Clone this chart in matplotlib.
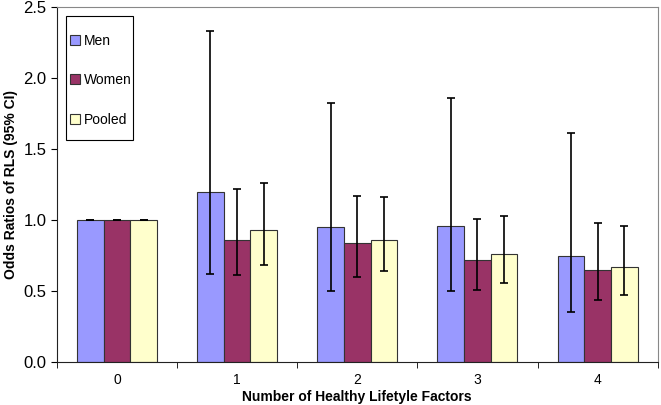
import matplotlib.pyplot as plt
import numpy as np
from matplotlib.patches import Rectangle

plt.rcParams['font.family'] = ['Liberation Sans', 'DejaVu Sans']

factors = ["0", "1", "2", "3", "4"]
men = [1.00, 1.20, 0.95, 0.96, 0.75]
men_lo = [1.00, 0.62, 0.50, 0.50, 0.35]
men_hi = [1.00, 2.33, 1.82, 1.86, 1.61]
women = [1.00, 0.86, 0.84, 0.72, 0.65]
women_lo = [1.00, 0.61, 0.60, 0.51, 0.44]
women_hi = [1.00, 1.22, 1.17, 1.01, 0.98]
pooled = [1.00, 0.93, 0.86, 0.76, 0.67]
pooled_lo = [1.00, 0.68, 0.64, 0.56, 0.47]
pooled_hi = [1.00, 1.26, 1.16, 1.03, 0.96]

fig = plt.figure(figsize=(6.61, 4.05), dpi=100)
ax = fig.add_axes([0.086, 0.106, 0.909, 0.877])

x = np.arange(len(factors))
w = 0.222
series = [
    ("Men", men, men_lo, men_hi, "#9999FF"),
    ("Women", women, women_lo, women_hi, "#993366"),
    ("Pooled", pooled, pooled_lo, pooled_hi, "#FFFFCC"),
]
for i, (name, vals, lo, hi, col) in enumerate(series):
    vals = np.array(vals)
    err = [vals - np.array(lo), np.array(hi) - vals]
    ax.bar(x + (i - 1) * w, vals, w, color=col, edgecolor="#333333",
           linewidth=0.8, label=name)
    ax.errorbar(x + (i - 1) * w, vals, yerr=err, fmt="none", ecolor="black",
                elinewidth=1.2, capsize=3, capthick=1.2)

ax.set_xlim(-0.5, 4.5)
ax.set_ylim(0, 2.5)
ax.set_yticks(np.arange(0, 2.51, 0.5))
ax.set_yticklabels([f"{v:.1f}" for v in np.arange(0, 2.51, 0.5)], fontsize=12)
ax.set_xticks(x)
ax.set_xticklabels(factors, fontsize=10)
ax.set_xticks(np.arange(-0.5, 4.6, 1), minor=True)
ax.tick_params(axis="x", which="major", length=0, pad=8)
ax.tick_params(axis="x", which="minor", length=4, direction="out")
ax.tick_params(axis="y", length=4, direction="out")

for s in ["top", "right"]:
    ax.spines[s].set_color("#888888")
for s in ["left", "bottom"]:
    ax.spines[s].set_color("#222222")

ax.set_xlabel("Number of Healthy Lifetyle Factors", fontsize=10,
              fontweight="bold", labelpad=2)
ax.set_ylabel("Odds Ratios of RLS (95% CI)", fontsize=10,
              fontweight="bold", labelpad=4)

# legend frame drawn by hand, Excel-style tall box
ax.add_patch(Rectangle((0.015, 0.625), 0.111, 0.35, transform=ax.transAxes,
                       facecolor="white", edgecolor="black", linewidth=0.8,
                       zorder=5))
leg = ax.legend(loc="upper left", bbox_to_anchor=(0.022, 0.925), frameon=False,
                fontsize=10, labelspacing=1.85, handlelength=0.7,
                handleheight=0.7, handletextpad=0.3, borderpad=0,
                borderaxespad=0)
leg.set_zorder(6)

fig.savefig("out.png", dpi=100)
